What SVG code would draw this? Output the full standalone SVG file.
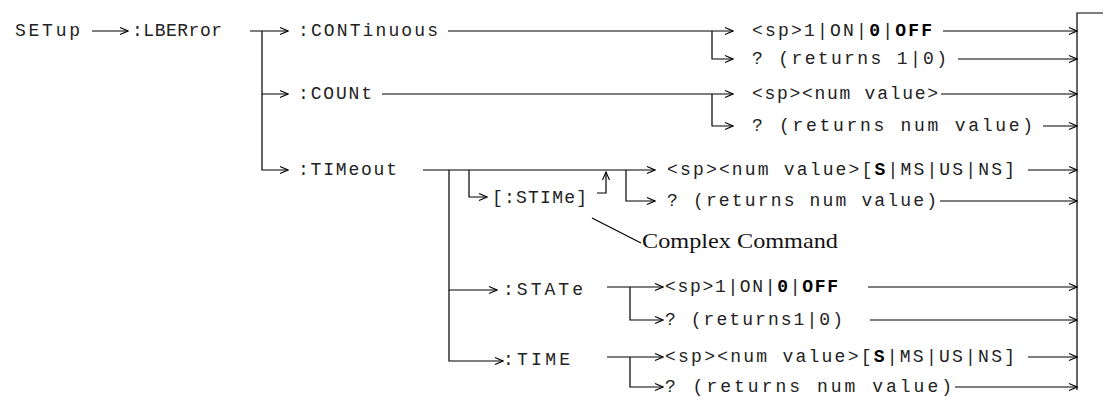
<svg xmlns="http://www.w3.org/2000/svg" width="1104" height="399" viewBox="0 0 1104 399">
<style>
.t{font-family:"Liberation Mono","Courier New",monospace;font-size:18px;fill:#222}
.b{font-weight:bold;fill:#000}
.s{font-family:"Liberation Serif","Times New Roman",serif;font-size:21px;fill:#111}
.c path{fill:none;stroke:#000;stroke-width:1.2}
</style>
<defs>
<marker id="ah" markerWidth="10" markerHeight="10" refX="9" refY="5" orient="auto" markerUnits="userSpaceOnUse">
<path d="M1,1.5 L9,5 L1,8.5" fill="none" stroke="#000" stroke-width="1.1"/>
</marker>
</defs>
<rect width="1104" height="399" fill="#fff"/>
<g id="connectors" class="c">
<path d="M92,31 H128" marker-end="url(#ah)"/>
<path d="M250,31 H288" marker-end="url(#ah)"/>
<path d="M262,31 V94 H288" marker-end="url(#ah)"/>
<path d="M262,94 V170 H288" marker-end="url(#ah)"/>
<path d="M448,31 H733" marker-end="url(#ah)"/>
<path d="M712,31 V59 H733" marker-end="url(#ah)"/>
<path d="M943,31 H1077" marker-end="url(#ah)"/>
<path d="M958,59 H1077" marker-end="url(#ah)"/>
<path d="M382,94 H733" marker-end="url(#ah)"/>
<path d="M712,94 V126 H733" marker-end="url(#ah)"/>
<path d="M941,94 H1077" marker-end="url(#ah)"/>
<path d="M1043,126 H1077" marker-end="url(#ah)"/>
<path d="M423,170 H655" marker-end="url(#ah)"/>
<path d="M449,170 V290 H497" marker-end="url(#ah)"/>
<path d="M449,290 V361 H503" marker-end="url(#ah)"/>
<path d="M469,170 V197 H487" marker-end="url(#ah)"/>
<path d="M597,193 H606 V172" marker-end="url(#ah)"/>
<path d="M626,170 V201 H655" marker-end="url(#ah)"/>
<path d="M1028,170 H1077" marker-end="url(#ah)"/>
<path d="M940,201 H1077" marker-end="url(#ah)"/>
<path d="M607,287 H663" marker-end="url(#ah)"/>
<path d="M630,287 V320 H663" marker-end="url(#ah)"/>
<path d="M868,287 H1077" marker-end="url(#ah)"/>
<path d="M870,320 H1077" marker-end="url(#ah)"/>
<path d="M607,357 H663" marker-end="url(#ah)"/>
<path d="M630,357 V387 H663" marker-end="url(#ah)"/>
<path d="M1028,357 H1077" marker-end="url(#ah)"/>
<path d="M955,387 H1077" marker-end="url(#ah)"/>
<path d="M1103,13 H1077 V390"/>
<path d="M592,218 L641,243"/>
</g>
<g id="n-setup"><text class="t" x="15" y="36" textLength="65" lengthAdjust="spacing">SETup</text></g>
<g id="n-lberror"><text class="t" x="132" y="36" textLength="90" lengthAdjust="spacing">:LBERror</text></g>
<g id="n-continuous"><text class="t" x="298" y="36" textLength="140" lengthAdjust="spacing">:CONTinuous</text></g>
<g id="n-cont-set"><text class="t" x="752" y="36" textLength="180" lengthAdjust="spacing">&lt;sp&gt;1|ON|<tspan class="b">0</tspan>|<tspan class="b">OFF</tspan></text></g>
<g id="n-cont-q"><text class="t" x="752" y="64" textLength="195" lengthAdjust="spacing">? (returns 1|0)</text></g>
<g id="n-count"><text class="t" x="298" y="99" textLength="74" lengthAdjust="spacing">:COUNt</text></g>
<g id="n-count-set"><text class="t" x="752" y="99" textLength="186" lengthAdjust="spacing">&lt;sp&gt;&lt;num value&gt;</text></g>
<g id="n-count-q"><text class="t" x="752" y="131" textLength="281" lengthAdjust="spacing">? (returns num value)</text></g>
<g id="n-timeout"><text class="t" x="298" y="175" textLength="99" lengthAdjust="spacing">:TIMeout</text></g>
<g id="n-stime-set"><text class="t" x="667" y="175" textLength="348" lengthAdjust="spacing">&lt;sp&gt;&lt;num value&gt;[<tspan class="b">S</tspan>|MS|US|NS]</text></g>
<g id="n-stime"><text class="t" x="492" y="203" textLength="95" lengthAdjust="spacing">[:STIMe]</text></g>
<g id="n-stime-q"><text class="t" x="667" y="206" textLength="270" lengthAdjust="spacing">? (returns num value)</text></g>
<g id="n-complex"><text class="s" x="642" y="248" textLength="196" lengthAdjust="spacingAndGlyphs">Complex Command</text></g>
<g id="n-state"><text class="t" x="503" y="295" textLength="80" lengthAdjust="spacing">:STATe</text></g>
<g id="n-state-set"><text class="t" x="665" y="292" textLength="173" lengthAdjust="spacing">&lt;sp&gt;1|ON|<tspan class="b">0</tspan>|<tspan class="b">OFF</tspan></text></g>
<g id="n-state-q"><text class="t" x="665" y="325" textLength="178" lengthAdjust="spacing">? (returns1|0)</text></g>
<g id="n-time"><text class="t" x="503" y="365" textLength="67" lengthAdjust="spacing">:TIME</text></g>
<g id="n-time-set"><text class="t" x="665" y="362" textLength="350" lengthAdjust="spacing">&lt;sp&gt;&lt;num value&gt;[<tspan class="b">S</tspan>|MS|US|NS]</text></g>
<g id="n-time-q"><text class="t" x="665" y="392" textLength="287" lengthAdjust="spacing">? (returns num value)</text></g>
</svg>
